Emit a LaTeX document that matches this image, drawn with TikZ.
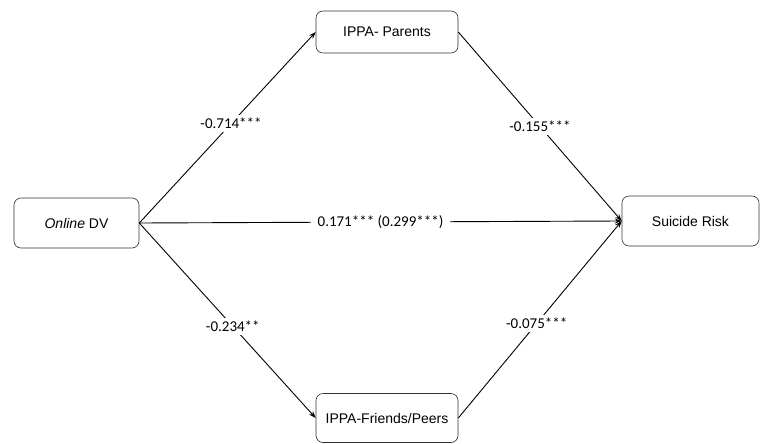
\documentclass[tikz,border=0pt]{standalone}
\usepackage{fontspec}
\setmainfont{Liberation Sans}
\newfontfamily\lblfont{Carlito}
\usetikzlibrary{arrows.meta}
\begin{document}
\begin{tikzpicture}[x=1pt,y=-1pt,
  box/.style={draw=black!80, rounded corners=7pt, line width=0.6pt, fill=white, font=\fontsize{14}{16}\selectfont, inner sep=0pt},
  coef/.style={fill=white, font=\lblfont\fontsize{15}{17}\selectfont, inner xsep=7pt, inner ysep=3pt},
  conn/.style={line width=0.9pt, -{Stealth[length=7pt,width=5pt]}}]
\useasboundingbox (0,0) rectangle (765,444);
\node[box, minimum width=125pt, minimum height=50pt] (dv) at (76.5,223) {\textit{Online} DV};
\node[box, minimum width=142pt, minimum height=42pt] (par) at (387,32) {IPPA- Parents};
\node[box, minimum width=142pt, minimum height=49pt] (fri) at (387,418) {IPPA-Friends/Peers};
\node[box, minimum width=137pt, minimum height=50pt] (sr) at (690.5,221) {Suicide Risk};
\draw[conn] (dv.east) -- node[coef, pos=0.52] {-0.714***} (par.west);
\draw[conn] (par.east) -- node[coef, pos=0.5] {-0.155***} (sr.west);
\draw[conn] (dv.east) -- node[coef, pos=0.5] {0.171*** (0.299***)} (sr.west);
\draw[conn] (dv.east) -- node[coef, pos=0.53] {-0.234**} (fri.west);
\draw[conn] (fri.east) -- node[coef, pos=0.48] {-0.075***} (sr.west);
\end{tikzpicture}
\end{document}
